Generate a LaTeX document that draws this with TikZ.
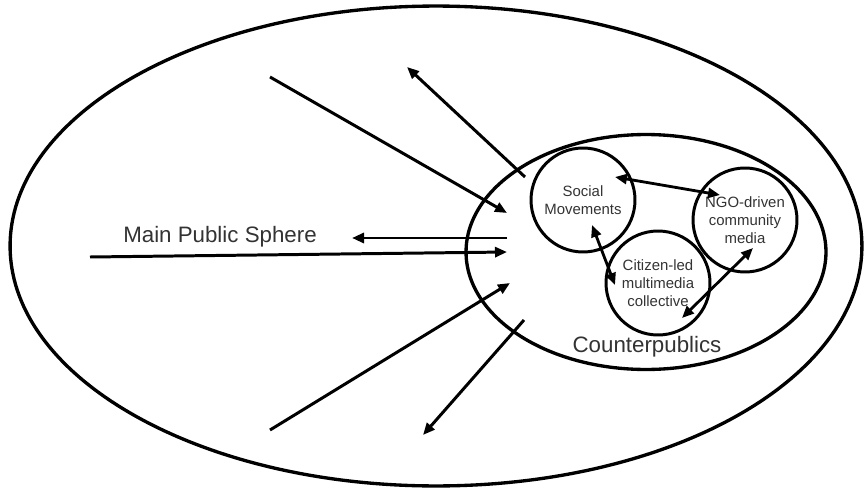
\documentclass[tikz,border=0pt]{standalone}
\usepackage{fontspec}
\setmainfont{Liberation Sans}
\usepackage{xcolor}
\usetikzlibrary{arrows.meta}
\usetikzlibrary{shapes.geometric}
\definecolor{labelgray}{HTML}{333333}

\tikzset{
  sphere/.style={draw, ellipse, line width=1.9pt, inner sep=0pt},
  group/.style={draw, circle, line width=1.7pt, minimum size=2.08cm, inner sep=0pt,
    align=center, text=labelgray, font=\fontsize{8.5}{10.4}\selectfont},
  flow/.style={line width=1.7pt, -{Triangle[length=2.4mm,width=2mm]}},
  link/.style={line width=1.6pt, {Triangle[length=2.4mm,width=2mm]}-{Triangle[length=2.4mm,width=2mm]}},
  biglabel/.style={text=labelgray, font=\fontsize{12.7}{15}\selectfont}
}

\begin{document}
\begin{tikzpicture}[x=0.02cm, y=-0.02cm]
    \useasboundingbox (0,0) rectangle (865,490);
    % The two spheres
    \node[sphere, minimum width=17.04cm, minimum height=9.6cm] (main) at (436,246) {};
    \node[sphere, minimum width=7.2cm, minimum height=4.7cm] (counter) at (646,252) {};
    \node[biglabel] (mainlbl) at (220,237) {Main Public Sphere};
    \node[biglabel] (counterlbl) at (647,347) {Counterpublics};

    % Groups inside the counterpublics
    \node[group] (sm) at (583,200) {Social\\Movements};
    \node[group] (ngo) at (745,220) {NGO-driven\\community\\media};
    \node[group] (cl) at (658,283) {Citizen-led\\multimedia\\collective};

    % Arrow ends
    \coordinate (inA) at (270,77);   \coordinate (inAend) at (507,213);
    \coordinate (outA) at (525,177); \coordinate (outAend) at (407,67);
    \coordinate (outB) at (507,238); \coordinate (outBend) at (352,238);
    \coordinate (inB) at (90,257);   \coordinate (inBend) at (507,252);
    \coordinate (inC) at (270,430);  \coordinate (inCend) at (510,283);
    \coordinate (outC) at (524,320); \coordinate (outCend) at (423,435);

    \draw[flow] (inA) -- (inAend);
    \draw[flow] (outA) -- (outAend);
    \draw[flow] (outB) -- (outBend);
    \draw[flow] (inB) -- (inBend);
    \draw[flow] (inC) -- (inCend);
    \draw[flow] (outC) -- (outCend);

    % Links between the groups
    \coordinate (smR) at (615,177);  \coordinate (ngoL) at (720,195);
    \coordinate (smB) at (592,225);  \coordinate (clT) at (615,285);
    \coordinate (ngoB) at (753,248); \coordinate (clR) at (682,318);

    \draw[link] (smR) -- (ngoL);
    \draw[link] (smB) -- (clT);
    \draw[link] (ngoB) -- (clR);
\end{tikzpicture}
\end{document}
